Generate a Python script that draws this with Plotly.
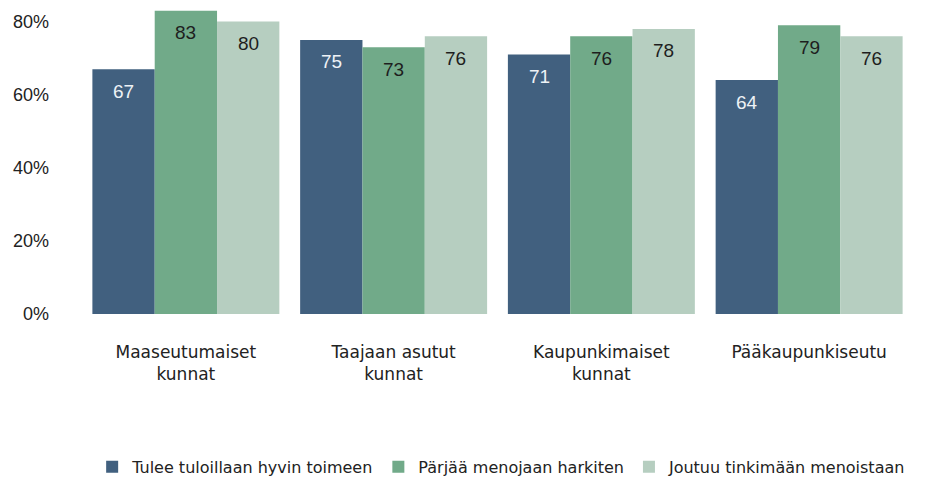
import plotly.graph_objects as go

categories = ["Maaseutumaiset<br>kunnat", "Taajaan asutut<br>kunnat", "Kaupunkimaiset<br>kunnat", "Pääkaupunkiseutu"]
series_names = ["Tulee tuloillaan hyvin toimeen", "Pärjää menojaan harkiten", "Joutuu tinkimään menoistaan"]
values = [
    [67, 75, 71, 64],
    [83, 73, 76, 79],
    [80, 76, 78, 76],
]
colors = ["#41607f", "#71aa89", "#b6cec0"]
label_colors = ["#eef2f6", "#1e1e1e", "#1e1e1e"]
y_ticks = [0, 20, 40, 60, 80]
y_tick_labels = ["0%", "20%", "40%", "60%", "80%"]

fig = go.Figure()
for name, vals, col in zip(series_names, values, colors):
    fig.add_trace(go.Bar(x=categories, y=vals, name=name, marker=dict(color=col, line=dict(width=0)),
                         hoverinfo="skip"))

bar_px = 62.3
for i, vals in enumerate(values):
    for c, v in zip(categories, vals):
        fig.add_annotation(x=c, y=v, xref="x", yref="y", text=str(v), showarrow=False,
                           xshift=(i - 1) * bar_px, yshift=-22, yanchor="middle",
                           font=dict(family="Liberation Sans, Arial", size=19, color=label_colors[i]))

fig.update_layout(
    width=939, height=477,
    margin=dict(l=82, r=26, t=7, b=163, autoexpand=False),
    paper_bgcolor="white", plot_bgcolor="white",
    barmode="group", bargap=0.1, bargroupgap=0,
    showlegend=True,
    legend=dict(orientation="h", x=0.505, xanchor="center", y=-0.498, yanchor="middle",
                font=dict(family="DejaVu Sans", size=16, color="#222"),
                itemwidth=30, traceorder="normal"),
    font=dict(family="DejaVu Sans", color="#222"),
)
fig.update_yaxes(range=[0, 84], tickvals=y_ticks, ticktext=y_tick_labels, showgrid=False,
                 zeroline=False, showline=False, ticks="", ticklabelstandoff=32, automargin=False,
                 tickfont=dict(family="Liberation Sans, Arial", size=18, color="#222"))
fig.update_xaxes(showgrid=False, showline=False, ticks="", ticklabelstandoff=26, automargin=False,
                 tickfont=dict(family="DejaVu Sans", size=17, color="#222"))

fig.write_html("out.html", config={"displayModeBar": False},
               post_script="document.body.style.margin='0';document.body.style.overflow='hidden';")
